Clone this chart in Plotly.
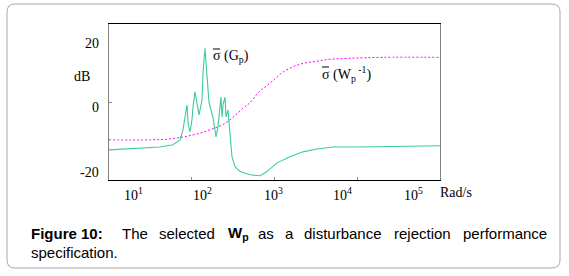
import plotly.graph_objects as go

# ---- data ----
gp_freq = [10, 23.7, 41.3, 59.3, 72.1, 78.3, 87.7, 90.2, 95.3, 100.7, 103.5, 109.4,
           115.6, 122.5, 133.0, 136.8, 144.5, 152.8, 161.4, 180.7, 196.3, 207.5,
           225.4, 232.3, 238.8, 252.4, 259.4, 274.2, 289.7, 306.2, 333.4, 382.8,
           505.8, 668.3, 810.9, 1072, 1538, 2208, 3266, 5093, 10790, 100000]
gp_db = [-14.8, -14.2, -13.9, -13.2, -11.7, -8.6, -0.9, -6.5, -9.2, -5.5, -1.5, 3.1,
         -0.3, -4.0, 0.6, 8.9, 16.6, 8.9, 0.0, -4.9, -10.8, -7.7,
         1.5, -4.6, -0.9, 1.5, -4.6, -2.5, -10.8, -16.9, -20.0, -21.5,
         -22.5, -22.8, -21.5, -18.8, -16.9, -15.4, -14.5, -13.9, -13.9, -13.5]

wp_freq = [10, 31.3, 54.6, 103.5, 166, 267, 417, 501, 668, 883, 1259, 2042,
           3236, 4677, 8128, 20417, 100000]
wp_db = [-11.7, -11.7, -11.4, -10.2, -8.6, -6.2, -1.9, -0.3, 3.4, 5.8, 9.2, 11.7,
         12.6, 13.2, 13.5, 13.8, 13.8]

x_tick_vals = [10, 100, 1000, 10000, 100000]
x_tick_text = ["10<sup>1</sup>", "10<sup>2</sup>", "10<sup>3</sup>", "10<sup>4</sup>", "10<sup>5</sup>"]
y_tick_vals = [20, 0, -20]
y_tick_text = ["20", "0", "-20"]

# ---- layout geometry (pixels) ----
W, H = 569, 276
L, R, T, B = 109, 440, 24, 180


def px(x):
    return (x - L) / (R - L)


def py(y):
    return (B - y) / (B - T)


SERIF = "Liberation Serif, Times New Roman, serif"
SANS = "Liberation Sans, Arial, sans-serif"

fig = go.Figure()
fig.add_trace(go.Scatter(x=gp_freq, y=gp_db, mode="lines",
                         line=dict(color="#3CCB9C", width=1.1),
                         showlegend=False, hoverinfo="skip"))
fig.add_trace(go.Scatter(x=wp_freq, y=wp_db, mode="lines",
                         line=dict(color="#FF00FF", width=1, dash="2px,2px", shape="spline"),
                         showlegend=False, hoverinfo="skip"))

annotations = []
# x tick labels (offset as in the original figure)
x_label_px = [133, 202, 273, 342, 413]
for xp, t in zip(x_label_px, x_tick_text):
    annotations.append(dict(x=px(xp), y=py(194), xref="paper", yref="paper", text=t,
                            showarrow=False, xanchor="center", yanchor="middle",
                            font=dict(family=SERIF, size=14, color="black")))
annotations.append(dict(x=px(456), y=py(192), xref="paper", yref="paper", text="Rad/s",
                        showarrow=False, xanchor="center", yanchor="middle",
                        font=dict(family=SERIF, size=14, color="black")))
# y tick labels
y_label_py = [43, 107, 172]
for yp, t in zip(y_label_py, y_tick_text):
    annotations.append(dict(x=px(101), y=py(yp), xref="paper", yref="paper", text=t,
                            showarrow=False, xanchor="right", yanchor="middle",
                            font=dict(family=SERIF, size=14, color="black")))
annotations.append(dict(x=px(82), y=py(76), xref="paper", yref="paper", text="dB",
                        showarrow=False, xanchor="center", yanchor="middle",
                        font=dict(family=SERIF, size=14, color="black")))
# curve labels
annotations.append(dict(x=px(211), y=py(56), xref="paper", yref="paper",
                        text="σ (G<sub>p</sub>)",
                        showarrow=False, xanchor="left", yanchor="middle",
                        font=dict(family=SERIF, size=14, color="black")))
annotations.append(dict(x=px(320), y=py(74), xref="paper", yref="paper",
                        text="σ (W<sub>p</sub><sup> -1</sup>)",
                        showarrow=False, xanchor="left", yanchor="middle",
                        font=dict(family=SERIF, size=14, color="black")))

# caption, justified word by word
cap_words = ["<b>Figure 10:</b>", "The", "selected", "<b>W<sub>p</sub></b>", "as", "a",
             "disturbance", "rejection", "performance"]
cap_x = [29, 120, 157, 226, 256, 283, 302, 392, 461]
for xp, t in zip(cap_x, cap_words):
    annotations.append(dict(x=px(xp), y=py(233), xref="paper", yref="paper", text=t,
                            showarrow=False, xanchor="left", yanchor="middle",
                            font=dict(family=SANS, size=15, color="black")))
annotations.append(dict(x=px(29), y=py(252), xref="paper", yref="paper", text="specification.",
                        showarrow=False, xanchor="left", yanchor="middle",
                        font=dict(family=SANS, size=15, color="black")))

# rounded outer frame
x0, x1, y0, y1, r = 7, 560, 4, 268, 8
rx, ry = r / (R - L), r / (B - T)
X0, X1, Y0, Y1 = px(x0), px(x1), py(y1), py(y0)
path = (f"M {X0 + rx},{Y1} L {X1 - rx},{Y1} Q {X1},{Y1} {X1},{Y1 - ry} "
        f"L {X1},{Y0 + ry} Q {X1},{Y0} {X1 - rx},{Y0} L {X0 + rx},{Y0} "
        f"Q {X0},{Y0} {X0},{Y0 + ry} L {X0},{Y1 - ry} Q {X0},{Y1} {X0 + rx},{Y1} Z")
shapes = [dict(type="path", path=path, xref="paper", yref="paper",
               line=dict(color="#A8A8A8", width=1), layer="below")]
# overlines on sigma (sigma-bar)
for (ax0, ax1, ay) in [(213, 220, 49), (322, 329, 67)]:
    shapes.append(dict(type="line", xref="paper", yref="paper",
                       x0=px(ax0), x1=px(ax1), y0=py(ay), y1=py(ay),
                       line=dict(color="black", width=1)))

fig.update_layout(
    width=W, height=H,
    margin=dict(l=L, r=W - R, t=T, b=H - B, pad=0),
    paper_bgcolor="white", plot_bgcolor="white",
    annotations=annotations, shapes=shapes,
    xaxis=dict(type="log", range=[1, 5], showgrid=False, zeroline=False,
               tickvals=x_tick_vals, showticklabels=False,
               ticks="inside", ticklen=3, tickcolor="#888",
               showline=True, linecolor="black", linewidth=1.2, mirror=True),
    yaxis=dict(range=[-24.1, 24.1], showgrid=False, zeroline=False,
               tickvals=[0], showticklabels=False,
               ticks="inside", ticklen=3, tickcolor="#888",
               showline=True, linecolor="#808080", linewidth=1.2, mirror=True),
)
fig.write_html("out.html", config={"displayModeBar": False},
               post_script="document.body.style.margin='0';document.body.style.overflow='hidden';")
